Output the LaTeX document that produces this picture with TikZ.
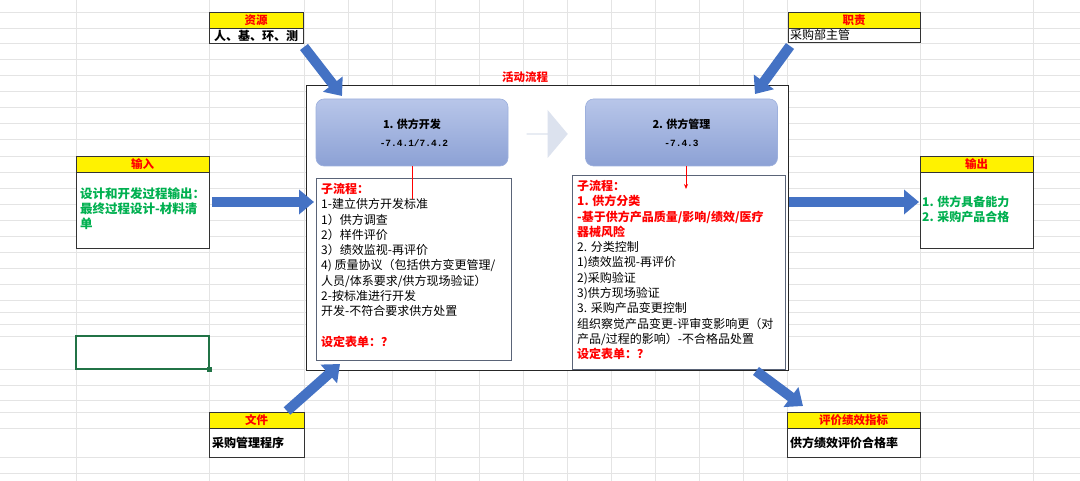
\documentclass[tikz,border=0pt]{standalone}
\usepackage{fontspec}
\setmainfont{Noto Sans CJK SC}
\newfontfamily\monof{Liberation Mono}
\usetikzlibrary{arrows.meta,shapes.arrows}
\definecolor{ablue}{HTML}{4472C4}
\definecolor{ablueD}{HTML}{2F528F}
\definecolor{xgreen}{HTML}{00B050}
\definecolor{selgreen}{HTML}{217346}
\definecolor{boxtop}{HTML}{B8C6E9}
\definecolor{boxbot}{HTML}{8CA1D5}
\definecolor{boxline}{HTML}{9DB0DD}
\definecolor{subline}{HTML}{5A6478}
\definecolor{lightarrow}{HTML}{DCE2EE}
\definecolor{grid}{HTML}{E4E4E4}
\tikzset{
  hdr/.style={draw=black!80, fill=yellow, line width=0.7pt, text=red, inner sep=0pt,
    font=\bfseries\fontsize{11.5}{12}\selectfont},
  bodybox/.style={draw=black!80, fill=white, line width=0.7pt, inner sep=0pt},
  proc/.style={draw=boxline, line width=0.6pt, rounded corners=8pt, top color=boxtop, bottom color=boxbot,
    minimum width=192pt, minimum height=67pt, inner sep=0pt},
  subbox/.style={draw=subline, fill=white, line width=0.9pt, inner sep=0pt},
  sublist/.style={anchor=north west, inner sep=0pt, align=left,
    font=\fontsize{12}{15.3}\selectfont},
  barrow/.style={line width=10pt, ablue, -{Triangle[length=15pt,width=24pt]}},
  redline/.style={red, line width=0.9pt},
}
\begin{document}
\begin{tikzpicture}[x=1pt,y=-1pt]
\useasboundingbox[fill=white] (0,0) rectangle (1080,481);
% spreadsheet grid
\foreach \gx in {76,209,304,347.9,391.8,435.7,479.6,523.5,567.4,611.3,655.2,699.1,743,787,920,1033}
  \draw[grid, line width=0.5pt] (\gx,0) -- (\gx,481);
\foreach \gy in {12,28,43,59,75,91,107,123,139,156,172,188,204,220,236,252,268,284,300,312,324,336,369,385,400,412,428,457,473}
  \draw[grid, line width=0.5pt] (0,\gy) -- (1080,\gy);

% outer frame
\node[draw=black!85, fill=white, line width=0.7pt, minimum width=482pt, minimum height=285pt, inner sep=0pt] (frame) at (547,227.5) {};
\node[text=red, font=\bfseries\fontsize{11.5}{12}\selectfont, inner sep=0pt] (ftitle) at (525,77.5) {活动流程};

% resources
\node[hdr, minimum width=94pt, minimum height=16pt] (resh) at (256,20) {资源};
\node[bodybox, minimum width=94pt, minimum height=15pt] (resb) at (256,35.5) {};
\node[font=\bfseries\fontsize{12}{13}\selectfont, inner sep=0pt] (rest) at (256,35.5) {人、基、环、测};

% duty
\node[hdr, minimum width=132pt, minimum height=16pt] (dutyh) at (854,20) {职责};
\node[bodybox, minimum width=132pt, minimum height=14pt] (dutyb) at (854,35) {};
\node[anchor=west, font=\fontsize{12}{13}\selectfont, inner sep=0pt] (dutyt) at (790,35) {采购部主管};

% input
\node[hdr, minimum width=133pt, minimum height=16pt] (inh) at (142.5,164) {输入};
\node[bodybox, minimum width=133pt, minimum height=76pt] (inb) at (142.5,210) {};
\node[anchor=north west, align=left, text=xgreen, inner sep=0pt,
  font=\bfseries\fontsize{12.5}{15}\selectfont] (intext) at (80,188)
  {设计和开发过程输出：\\最终过程设计-材料清\\单};

% output
\node[hdr, minimum width=113pt, minimum height=16pt] (outh) at (976.5,164) {输出};
\node[bodybox, minimum width=113pt, minimum height=76pt] (outb) at (976.5,210) {};
\node[anchor=north west, align=left, text=xgreen, inner sep=0pt,
  font=\bfseries\fontsize{12}{15}\selectfont] (outtext) at (922,196)
  {1. 供方具备能力\\2. 采购产品合格};

% file
\node[hdr, minimum width=95pt, minimum height=16pt] (fileh) at (256.5,420) {文件};
\node[bodybox, minimum width=95pt, minimum height=29pt] (fileb) at (256.5,442.5) {};
\node[anchor=west, font=\bfseries\fontsize{12}{13}\selectfont, inner sep=0pt] (filet) at (212,442.5) {采购管理程序};

% KPI
\node[hdr, minimum width=133pt, minimum height=16pt] (kpih) at (853.5,420) {评价绩效指标};
\node[bodybox, minimum width=133pt, minimum height=29pt] (kpib) at (853.5,442.5) {};
\node[anchor=west, font=\bfseries\fontsize{12}{13}\selectfont, inner sep=0pt] (kpit) at (790,442.5) {供方绩效评价合格率};

% selected cell
\node[draw=selgreen, line width=1.3pt, minimum width=133pt, minimum height=33pt, inner sep=0pt] (sel) at (142.5,352.5) {};
\node[fill=selgreen, minimum size=4.5pt, inner sep=0pt] (selh) at (sel.south east) {};

% process boxes
\node[proc] (p1) at (412,132.5) {};
\node[font=\bfseries\fontsize{11}{12}\selectfont, inner sep=0pt] (p1a) at (412,124) {1. 供方开发};
\node[font=\monof\bfseries\fontsize{9.5}{11}\selectfont, inner sep=0pt] (p1b) at (414,143) {-7.4.1/7.4.2};
\node[proc] (p2) at (681.5,132.5) {};
\node[font=\bfseries\fontsize{11}{12}\selectfont, inner sep=0pt] (p2a) at (681.5,124) {2. 供方管理};
\node[font=\monof\bfseries\fontsize{9.5}{11}\selectfont, inner sep=0pt] (p2b) at (681.5,143) {-7.4.3};

% light arrow between
\node[single arrow, fill=lightarrow, minimum height=41pt, minimum width=48pt,
  single arrow head extend=8pt, single arrow tip angle=100, inner sep=0pt] (mid) at (547,134) {};

% sub boxes
\node[subbox, minimum width=195pt, minimum height=182pt] (s1) at (413.5,269) {};
\node[subbox, minimum width=213pt, minimum height=194pt] (s2) at (678.5,272) {};

\node[sublist] (s1t) at (321,183) {%
{\color{red}\bfseries 子流程：}\\
1-建立供方开发标准\\
1）供方调查\\
2）样件评价\\
3）绩效监视-再评价\\
4) 质量协议（包括供方变更管理/\\
人员/体系要求/供方现场验证）\\
2-按标准进行开发\\
开发-不符合要求供方处置\\
\mbox{}\\
{\color{red}\bfseries 设定表单：？}};

\node[sublist] (s2t) at (577,180) {%
{\color{red}\bfseries 子流程：}\\
{\color{red}\bfseries 1. 供方分类}\\
{\color{red}\bfseries -基于供方产品质量/影响/绩效/医疗}\\
{\color{red}\bfseries 器械风险}\\
2. 分类控制\\
1)绩效监视-再评价\\
2)采购验证\\
3)供方现场验证\\
3. 采购产品变更控制\\
组织察觉产品变更-评审变影响更（对\\
产品/过程的影响）-不合格品处置\\
{\color{red}\bfseries 设定表单：？}};

% red connectors
\coordinate (r1) at (412,199);
\coordinate (r2) at (686,189);
\draw[redline] (p1.south) -- (r1);
\draw[redline, -{Stealth[length=5pt,width=4pt]}] (p2.south -| r2) -- (r2);

% blue block arrows
\coordinate (a1s) at (304,47);   \coordinate (a1e) at (342,96);
\coordinate (a2s) at (790,46);   \coordinate (a2e) at (755,94);
\coordinate (a3e) at (314,202);
\coordinate (a4s) at (789,202);  \coordinate (a4e) at (919,202);
\coordinate (a5s) at (287,411);  \coordinate (a5e) at (340,364);
\coordinate (a6s) at (756,371);  \coordinate (a6e) at (803,406);
\draw[barrow] (a1s) -- (a1e);
\draw[barrow] (a2s) -- (a2e);
\draw[barrow] (inb.east |- a3e) ++(3,0) -- (a3e);
\draw[barrow] (a4s) -- (a4e);
\draw[barrow] (a5s) -- (a5e);
\draw[barrow] (a6s) -- (a6e);
\end{tikzpicture}
\end{document}
